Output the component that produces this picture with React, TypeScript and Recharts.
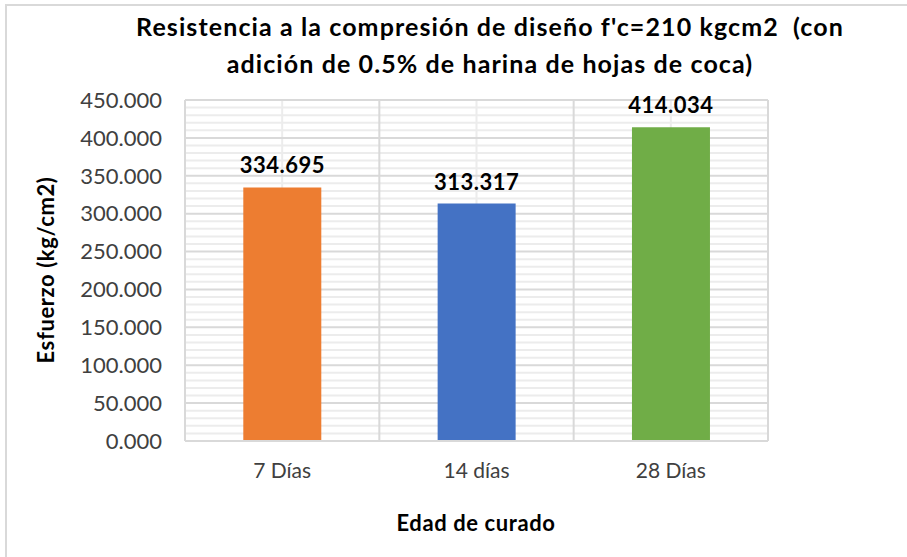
import React from "react";
import {
  BarChart,
  Bar,
  XAxis,
  YAxis,
  CartesianGrid,
  Cell,
  LabelList,
} from "recharts";

const categories = ["7 Días", "14 días", "28 Días"];
const resistencia = [334.695, 313.317, 414.034];
const barColors = ["#ED7D31", "#4472C4", "#70AD47"];
const majorTicks = [0, 50, 100, 150, 200, 250, 300, 350, 400, 450];
const minorTicks = [
  10, 20, 30, 40, 60, 70, 80, 90, 110, 120, 130, 140, 160, 170, 180, 190, 210,
  220, 230, 240, 260, 270, 280, 290, 310, 320, 330, 340, 360, 370, 380, 390,
  410, 420, 430, 440,
];
const yMax = 450;

const titleLine1 = "Resistencia a la compresión de diseño f'c=210 kgcm2\u00a0\u00a0(con";
const titleLine2 = "adición de 0.5% de harina de hojas de coca)";
const yTitle = "Esfuerzo (kg/cm2)";
const xTitle = "Edad de curado";

const data = categories.map((c, i) => ({ name: c, value: resistencia[i] }));

const FONT = "Lato, 'Noto Sans', sans-serif";

const minorGen = (props: any) => {
  const off = props?.offset;
  if (!off) return [];
  return minorTicks.map((t) => off.top + off.height * (1 - t / yMax));
};

const boundaryGen = (props: any) => {
  const off = props?.offset;
  if (!off) return [];
  const n = categories.length;
  const out: number[] = [];
  for (let i = 0; i <= n; i++) out.push(off.left + (off.width * i) / n);
  return out;
};

export default function App() {
  return (
    <div
      style={{
        position: "absolute",
        left: 0,
        top: 0,
        width: 907,
        height: 557,
        background: "#fff",
        fontFamily: FONT,
        overflow: "hidden",
      }}
    >
      <div
        style={{
          position: "absolute",
          left: 5,
          top: 4,
          width: 910,
          height: 560,
          borderTop: "2px solid #d9d9d9",
          borderLeft: "2px solid #d9d9d9",
        }}
      />
      <div
        style={{
          position: "absolute",
          left: 0,
          width: 980,
          top: 8,
          textAlign: "center",
          fontWeight: 700,
          fontSize: 25,
          letterSpacing: 1.1,
          lineHeight: "37px",
          color: "#000",
          whiteSpace: "nowrap",
        }}
      >
        <div>{titleLine1}</div>
        <div>{titleLine2}</div>
      </div>
      <BarChart
        width={907}
        height={557}
        data={data}
        margin={{ top: 100, right: 139, bottom: 86, left: 85 }}
        barCategoryGap="30%"
      >
        <CartesianGrid
          vertical={false}
          stroke="#ececec"
          strokeWidth={2}
          horizontalCoordinatesGenerator={minorGen}
        />
        <CartesianGrid horizontal={false} stroke="#ececec" strokeWidth={2} />
        <CartesianGrid
          horizontal={false}
          stroke="#d9d9d9"
          strokeWidth={2}
          verticalCoordinatesGenerator={boundaryGen}
        />
        <CartesianGrid vertical={false} stroke="#d9d9d9" strokeWidth={2} />
        <XAxis
          dataKey="name"
          axisLine={{ stroke: "#d9d9d9", strokeWidth: 2 }}
          tickLine={false}
          tickSize={6}
          tickMargin={16}
          height={30}
          tick={{ fill: "#404040", fontSize: 21, fontFamily: FONT }}
        />
        <YAxis
          domain={[0, yMax]}
          ticks={majorTicks}
          width={100}
          axisLine={false}
          tickLine={false}
          tickSize={6}
          tickMargin={17}
          tickFormatter={(v: number) => v.toFixed(3)}
          tick={{ fill: "#404040", fontSize: 22, fontFamily: FONT }}
        />
        <Bar dataKey="value" isAnimationActive={false}>
          {data.map((d, i) => (
            <Cell key={d.name} fill={barColors[i]} />
          ))}
          <LabelList
            dataKey="value"
            position="top"
            offset={14}
            formatter={(v: number) => v.toFixed(3)}
            style={{ fontWeight: 700, fontSize: 22, fill: "#000", fontFamily: FONT, letterSpacing: 0.5 }}
          />
        </Bar>
      </BarChart>
      <div
        style={{
          position: "absolute",
          left: 476,
          top: 522,
          transform: "translate(-50%, -50%)",
          fontWeight: 700,
          fontSize: 22,
          letterSpacing: 0.6,
          color: "#000",
          whiteSpace: "nowrap",
        }}
      >
        {xTitle}
      </div>
      <div
        style={{
          position: "absolute",
          left: 45,
          top: 270,
          transform: "translate(-50%, -50%) rotate(-90deg)",
          fontWeight: 700,
          fontSize: 22,
          letterSpacing: 0.6,
          color: "#000",
          whiteSpace: "nowrap",
        }}
      >
        {yTitle}
      </div>
    </div>
  );
}
